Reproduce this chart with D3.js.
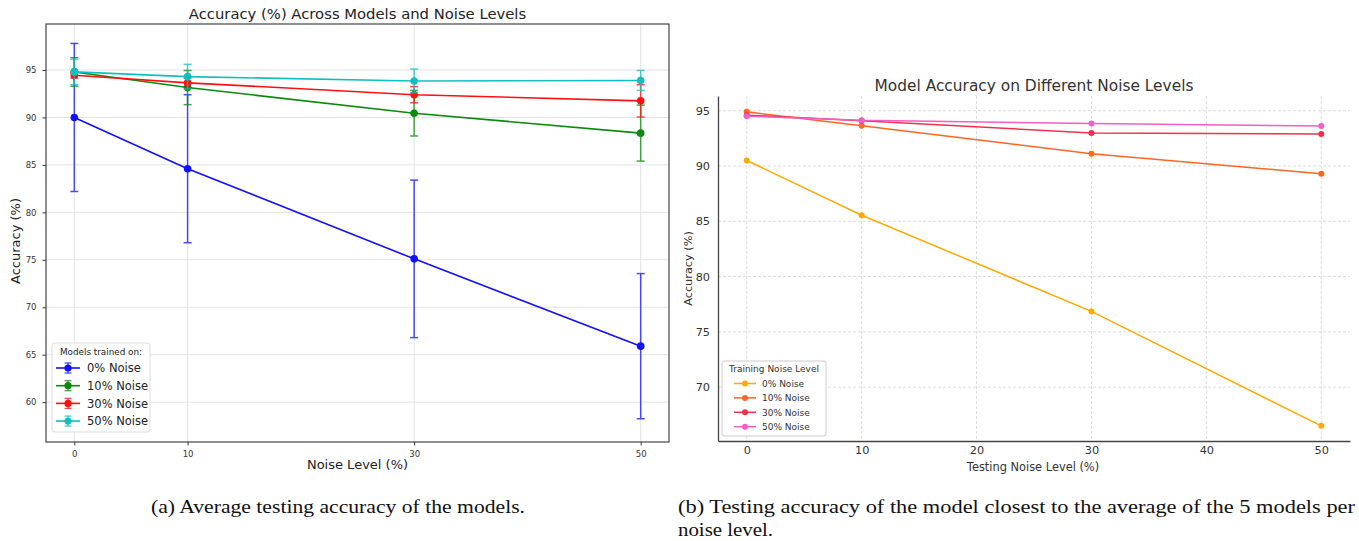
<!DOCTYPE html>
<html><head><meta charset="utf-8">
<script src="https://cdn.jsdelivr.net/npm/d3@7"></script>
<style>body{margin:0;background:#fff}svg{display:block}</style>
</head><body>
<svg id="c" width="1359" height="541"></svg>
<script>
// ---- data: left chart (mean ± std) ----
const noiseLevelsA = [0, 10, 30, 50];
const seriesNamesA = ["0% Noise", "10% Noise", "30% Noise", "50% Noise"];
const meansA0 = [90.0, 84.6, 75.1, 65.9];
const errsA0  = [7.8, 7.8, 8.3, 7.65];
const meansA10 = [94.8, 93.15, 90.45, 88.35];
const errsA10  = [1.5, 1.8, 2.4, 2.95];
const meansA30 = [94.45, 93.65, 92.4, 91.75];
const errsA30  = [0.3, 0.5, 0.85, 1.7];
const meansA50 = [94.8, 94.3, 93.85, 93.9];
const errsA50  = [1.35, 1.3, 1.25, 1.05];
const yTicksA = [60, 65, 70, 75, 80, 85, 90, 95];
const xTicksA = [0, 10, 30, 50];

// ---- data: right chart ----
const noiseLevelsB = [0, 10, 30, 50];
const seriesNamesB = ["0% Noise", "10% Noise", "30% Noise", "50% Noise"];
const accB0  = [90.5, 85.55, 76.85, 66.5];
const accB10 = [94.9, 93.65, 91.1, 89.3];
const accB30 = [94.6, 94.1, 92.98, 92.9];
const accB50 = [94.5, 94.13, 93.85, 93.62];
const yTicksB = [70, 75, 80, 85, 90, 95];
const xTicksB = [0, 10, 20, 30, 40, 50];

const svg = d3.select("#c");
const DJ = "DejaVu Sans, sans-serif";

// ================= LEFT CHART =================
(function(){
  const L=46,R=669,T=24,B=442;
  const x=d3.scaleLinear().domain([-2.5,52.5]).range([L,R]);
  const y=d3.scaleLinear().domain([55.8,99.85]).range([B,T]);
  const g=svg.append("g");
  g.selectAll(".gx").data(xTicksA).enter().append("line")
    .attr("x1",d=>x(d)).attr("x2",d=>x(d)).attr("y1",T).attr("y2",B)
    .attr("stroke","#e3e3e3").attr("stroke-width",1);
  g.selectAll(".gy").data(yTicksA).enter().append("line")
    .attr("x1",L).attr("x2",R).attr("y1",d=>y(d)).attr("y2",d=>y(d))
    .attr("stroke","#e3e3e3").attr("stroke-width",1);
  const xa=g.append("g").attr("transform",`translate(0,${B})`)
    .call(d3.axisBottom(x).tickValues(xTicksA).tickSize(3.5).tickPadding(5).tickFormat(d3.format("d")));
  const ya=g.append("g").attr("transform",`translate(${L},0)`)
    .call(d3.axisLeft(y).tickValues(yTicksA).tickSize(3.5).tickPadding(6).tickFormat(d3.format("d")));
  [xa,ya].forEach(a=>{a.select(".domain").remove();
    a.selectAll("text").attr("font-family",DJ).attr("font-size",8.5).attr("fill","#333");
    a.selectAll("line").attr("stroke","#333");});
  g.append("rect").attr("x",L).attr("y",T).attr("width",R-L).attr("height",B-T)
    .attr("fill","none").attr("stroke","#333").attr("stroke-width",1.1);

  const colors=["#1010ff","#0a8a0a","#ff1010","#10c0c0"];
  const means=[meansA0,meansA10,meansA30,meansA50];
  const errs=[errsA0,errsA10,errsA30,errsA50];
  const line=d3.line().x((d,i)=>x(noiseLevelsA[i])).y(d=>y(d));
  means.forEach((m,s)=>{
    const c=colors[s];
    const eg=g.append("g").attr("opacity",0.75);
    m.forEach((v,i)=>{
      const xx=x(noiseLevelsA[i]), e=errs[s][i];
      eg.append("line").attr("x1",xx).attr("x2",xx).attr("y1",y(v-e)).attr("y2",y(v+e)).attr("stroke",c).attr("stroke-width",1.5);
      [v-e,v+e].forEach(t=>eg.append("line").attr("x1",xx-4).attr("x2",xx+4).attr("y1",y(t)).attr("y2",y(t)).attr("stroke",c).attr("stroke-width",1.5));
    });
    g.append("path").datum(m).attr("d",line).attr("fill","none").attr("stroke",c).attr("stroke-width",1.6);
    g.selectAll(null).data(m).enter().append("circle")
      .attr("cx",(d,i)=>x(noiseLevelsA[i])).attr("cy",d=>y(d)).attr("r",3.8).attr("fill",c);
  });
  svg.append("text").attr("x",(L+R)/2).attr("y",19).attr("text-anchor","middle")
    .attr("font-family",DJ).attr("font-size",14.8).attr("fill","#222").text("Accuracy (%) Across Models and Noise Levels");
  svg.append("text").attr("x",(L+R)/2).attr("y",469).attr("text-anchor","middle")
    .attr("font-family",DJ).attr("font-size",13).attr("fill","#222").text("Noise Level (%)");
  svg.append("text").attr("transform",`translate(20,${(T+B)/2+8}) rotate(-90)`).attr("text-anchor","middle")
    .attr("font-family",DJ).attr("font-size",13).attr("fill","#222").text("Accuracy (%)");
  const lg=svg.append("g");
  lg.append("rect").attr("x",52).attr("y",343).attr("width",98).attr("height",89).attr("rx",3)
    .attr("fill","#fff").attr("fill-opacity",0.85).attr("stroke","#ddd");
  lg.append("text").attr("x",101).attr("y",355).attr("text-anchor","middle")
    .attr("font-family",DJ).attr("font-size",8.8).attr("fill","#222").text("Models trained on:");
  seriesNamesA.forEach((n,i)=>{
    const yy=368+i*17.7, c=colors[i];
    lg.append("line").attr("x1",56).attr("x2",80).attr("y1",yy).attr("y2",yy).attr("stroke",c).attr("stroke-width",1.6);
    lg.append("line").attr("x1",68).attr("x2",68).attr("y1",yy-5).attr("y2",yy+5).attr("stroke",c).attr("stroke-width",1.3).attr("opacity",0.75);
    [yy-5,yy+5].forEach(t=>lg.append("line").attr("x1",64.5).attr("x2",71.5).attr("y1",t).attr("y2",t).attr("stroke",c).attr("stroke-width",1.3).attr("opacity",0.75));
    lg.append("circle").attr("cx",68).attr("cy",yy).attr("r",3.6).attr("fill",c);
    lg.append("text").attr("x",87).attr("y",yy+4.2).attr("font-family",DJ).attr("font-size",11.5).attr("fill","#222").text(n);
  });
})();

// ================= RIGHT CHART =================
(function(){
  const L=718,R=1350,T=96,B=441;
  const x=d3.scaleLinear().domain([-2.5,52.5]).range([L,R]);
  const y=d3.scaleLinear().domain([65.13,96.33]).range([B,T]);
  const g=svg.append("g");
  g.selectAll(".gx").data(xTicksB).enter().append("line")
    .attr("x1",d=>x(d)).attr("x2",d=>x(d)).attr("y1",T).attr("y2",B)
    .attr("stroke","#d4d4d4").attr("stroke-width",0.8).attr("stroke-dasharray","3,2");
  g.selectAll(".gy").data(yTicksB).enter().append("line")
    .attr("x1",L).attr("x2",R).attr("y1",d=>y(d)).attr("y2",d=>y(d))
    .attr("stroke","#d4d4d4").attr("stroke-width",0.8).attr("stroke-dasharray","3,2");
  const xa=g.append("g").attr("transform",`translate(0,${B})`)
    .call(d3.axisBottom(x).tickValues(xTicksB).tickSize(0).tickPadding(5).tickFormat(d3.format("d")));
  const ya=g.append("g").attr("transform",`translate(${L},0)`)
    .call(d3.axisLeft(y).tickValues(yTicksB).tickSize(0).tickPadding(8).tickFormat(d3.format("d")));
  [xa,ya].forEach(a=>{a.select(".domain").attr("stroke","#444").attr("stroke-width",1.3);
    a.selectAll("text").attr("font-family",DJ).attr("font-size",11.3).attr("fill","#333");});
  const colors=["#ffaa00","#ff6622","#f0304f","#f25fc4"];
  const data=[accB0,accB10,accB30,accB50];
  const line=d3.line().x((d,i)=>x(noiseLevelsB[i])).y(d=>y(d));
  data.forEach((a,s)=>{
    const c=colors[s];
    g.append("path").datum(a).attr("d",line).attr("fill","none").attr("stroke",c).attr("stroke-width",1.5);
    g.selectAll(null).data(a).enter().append("circle")
      .attr("cx",(d,i)=>x(noiseLevelsB[i])).attr("cy",d=>y(d)).attr("r",3).attr("fill",c);
  });
  svg.append("text").attr("x",1034).attr("y",91).attr("text-anchor","middle")
    .attr("font-family",DJ).attr("font-size",15.4).attr("fill","#333").text("Model Accuracy on Different Noise Levels");
  svg.append("text").attr("x",1033).attr("y",471).attr("text-anchor","middle")
    .attr("font-family",DJ).attr("font-size",11.4).attr("fill","#333").text("Testing Noise Level (%)");
  svg.append("text").attr("transform",`translate(692,${(T+B)/2}) rotate(-90)`).attr("text-anchor","middle")
    .attr("font-family",DJ).attr("font-size",11.3).attr("fill","#333").text("Accuracy (%)");
  const lg=svg.append("g");
  lg.append("rect").attr("x",722).attr("y",361).attr("width",104).attr("height",75).attr("rx",2)
    .attr("fill","#fff").attr("fill-opacity",0.85).attr("stroke","#ccc");
  lg.append("text").attr("x",774).attr("y",372).attr("text-anchor","middle")
    .attr("font-family",DJ).attr("font-size",9).attr("fill","#333").text("Training Noise Level");
  seriesNamesB.forEach((n,i)=>{
    const yy=383.5+i*14.4, c=colors[i];
    lg.append("line").attr("x1",734).attr("x2",756).attr("y1",yy).attr("y2",yy).attr("stroke",c).attr("stroke-width",1.5);
    lg.append("circle").attr("cx",745).attr("cy",yy).attr("r",3).attr("fill",c);
    lg.append("text").attr("x",762).attr("y",yy+3.3).attr("font-family",DJ).attr("font-size",9).attr("fill","#333").text(n);
  });
})();

// ================= CAPTIONS =================
const SERIF="Liberation Serif, serif";
svg.append("text").attr("x",151).attr("y",513).attr("font-family",SERIF).attr("font-size",18)
  .attr("textLength",374).attr("lengthAdjust","spacingAndGlyphs").attr("fill","#111")
  .text("(a) Average testing accuracy of the models.");
svg.append("text").attr("x",678).attr("y",513).attr("font-family",SERIF).attr("font-size",18)
  .attr("textLength",677).attr("lengthAdjust","spacingAndGlyphs").attr("fill","#111")
  .text("(b) Testing accuracy of the model closest to the average of the 5 models per");
svg.append("text").attr("x",678).attr("y",536).attr("font-family",SERIF).attr("font-size",18)
  .attr("textLength",95).attr("lengthAdjust","spacingAndGlyphs").attr("fill","#111")
  .text("noise level.");
</script>
</body></html>
